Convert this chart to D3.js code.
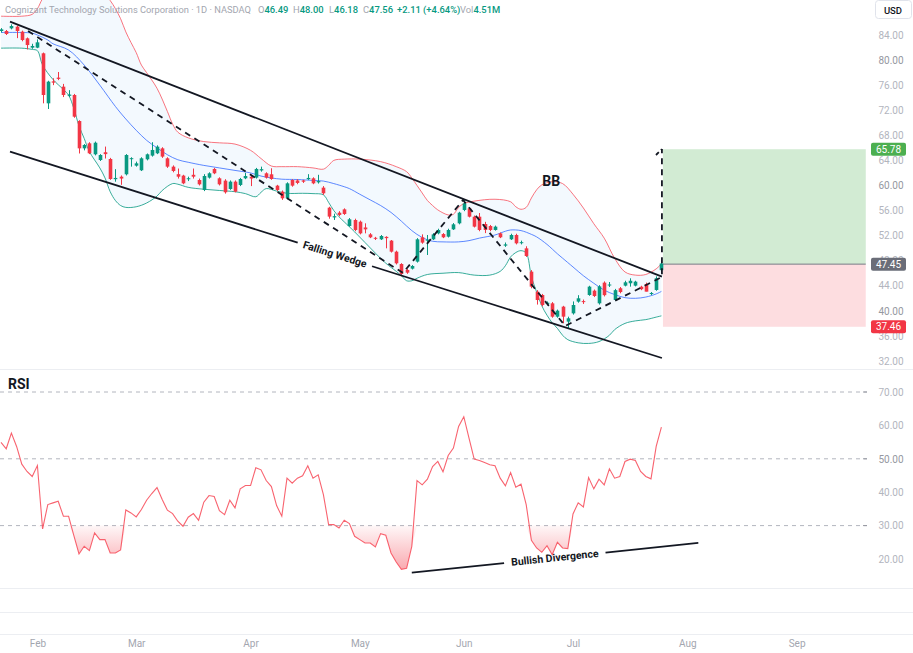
<!DOCTYPE html>
<html><head><meta charset="utf-8">
<script src="https://cdn.jsdelivr.net/npm/d3@7"></script>
<style>
html,body{margin:0;padding:0;background:#fff;}
svg{display:block;font-family:Roboto,"Noto Sans",sans-serif;}
</style></head><body>
<svg id="chart" width="913" height="653"></svg>
<script>
// ---------- DATA ----------
const opens  = [84.64,84.64,85.06,85.33,84.53,83.47,81.98,81.98,81.08,73.1,76.6,77.2,75.76,74.3,74.43,70.28,65.92,66.72,64.97,64.06,65.3,64.22,61.0,61.4,61.78,64.2,63.16,62.42,64.17,64.76,65.13,65.92,64.33,63.0,61.8,61.57,61.0,61.7,60.87,59.28,61.25,62.63,61.14,60.77,59.44,60.61,60.08,61.14,61.4,61.25,62.4,61.94,61.78,59.97,59.01,57.95,60.87,60.8,60.8,61.0,61.14,60.5,59.65,56.46,54.9,55.66,56.19,53.53,54.49,54.22,53.3,52.2,51.65,51.41,51.8,51.2,49.44,47.47,46.52,46.73,47.85,51.73,51.2,51.41,52.36,52.25,51.83,53.0,53.96,56.09,56.35,55.02,55.02,53.85,53.53,52.9,52.36,50.4,51.41,52.1,50.8,49.97,46.25,43.06,42.53,41.1,41.2,39.07,40.67,38.28,39.6,41.47,41.55,42.53,43.22,41.2,44.5,44.05,41.73,43.6,44.02,44.4,44.02,43.85,44.28,42.7,43.33,46.49];
const highs  = [85.1,84.8,85.7,85.5,84.7,83.6,82.6,83.3,81.2,76.7,77.1,78.1,76.2,75.2,74.6,70.4,66.6,66.9,67.0,65.0,66.2,64.4,62.6,61.6,65.0,64.5,63.8,64.5,65.1,66.9,66.4,66.1,64.5,63.2,62.7,61.7,61.4,62.7,61.1,61.8,62.1,62.8,61.3,61.0,60.8,60.8,61.2,62.0,61.7,62.8,63.0,62.1,62.74,60.1,59.2,60.5,61.0,61.0,60.9,61.8,61.3,61.7,59.9,56.6,55.5,55.9,56.35,54.8,54.7,54.4,53.96,52.4,51.8,52.1,51.9,51.3,49.6,47.6,46.7,47.3,51.6,52.2,52.1,52.4,53.1,52.4,53.1,54.0,55.8,57.7,56.5,55.2,55.6,54.2,53.7,53.6,52.5,50.9,52.3,52.3,51.2,50.3,46.5,43.3,42.7,41.5,41.4,40.2,40.8,39.07,41.5,42.5,41.8,44.0,43.4,44.1,44.7,44.6,43.5,43.8,44.8,45.19,44.8,44.0,44.5,43.0,45.5,48.0];
const lows   = [84.4,84.0,84.9,83.5,83.0,81.7,81.8,81.9,73.1,72.2,76.0,76.8,74.1,74.1,70.8,65.1,65.6,65.0,64.8,63.9,64.3,60.9,60.6,60.1,61.6,63.0,63.0,62.3,64.0,64.6,65.0,64.4,62.8,62.1,61.1,60.2,60.7,61.1,60.0,59.1,61.1,61.8,60.0,58.7,59.3,58.9,59.9,61.0,59.9,61.1,62.2,61.1,60.9,59.1,57.7,57.8,59.8,60.2,60.4,60.9,60.2,60.3,58.5,54.7,54.5,55.1,55.3,53.4,52.7,52.2,52.36,51.6,51.3,51.3,49.97,49.3,47.4,45.72,45.9,46.6,47.7,50.7,48.91,51.3,52.2,51.6,51.7,52.9,53.8,55.9,54.9,53.3,52.7,52.4,52.7,52.8,51.6,50.2,51.3,50.6,50.6,48.6,43.6,41.0,40.7,40.9,38.9,38.9,38.01,37.21,39.4,41.3,41.1,42.4,42.2,41.0,42.3,43.8,41.6,42.8,43.9,43.86,43.9,43.3,43.1,42.5,43.2,46.18];
const closes = [84.90,84.16,85.43,84.64,83.2,82.4,82.25,82.83,74.43,76.56,76.4,77.0,74.43,74.5,70.97,65.92,66.46,65.13,66.82,64.86,65.0,61.03,61.2,61.1,64.86,64.35,63.53,64.33,64.97,65.66,66.19,64.6,63.0,62.31,61.4,60.34,61.15,61.4,60.18,61.51,61.94,61.94,60.18,58.91,60.61,59.01,61.03,61.51,61.1,62.63,62.6,61.25,61.03,59.28,57.95,60.34,59.97,60.4,60.6,61.2,60.34,60.7,58.75,55.03,55.1,55.3,55.45,54.6,52.9,52.36,53.0,51.73,51.5,51.94,51.6,49.44,47.58,45.88,46.09,47.15,51.41,50.88,51.35,52.2,52.9,51.73,52.9,53.8,55.66,57.15,55.02,53.43,52.9,52.9,52.9,53.43,51.73,50.6,52.1,50.77,50.95,48.75,43.86,41.73,40.93,41.3,39.07,40.03,39.07,38.81,40.93,42.0,41.4,43.86,42.37,43.9,42.5,44.2,43.3,43.0,44.55,44.8,44.66,43.45,43.06,42.85,45.2,47.56];

const bbUpperIdx = [0,4,6,7,8,10,13,16,19,21,22,23,24,25,26,27,28,30,32,33,34,36,39,42,45,48,50,52,54,57,60,62,63,64,66,69,73,76,78,79,80,81,82,83,84,86,87,88,89,91,95,98,99,100,101,102,103,104,106,108,110,112,114,116,118,120,122,124,126,127];
const bbUpperVal = [87.0,87.0,87.3,88.2,89.8,91.8,93.0,93.0,91.5,89.5,88.2,86.6,84.5,82.8,81.2,79.2,78.0,75.5,71.8,69.8,68.5,67.6,67.0,66.8,66.6,65.6,64.3,63.1,63.0,63.0,62.8,62.6,63.2,64.0,64.2,64.2,63.8,63.0,62.2,61.2,60.0,58.8,57.6,56.8,56.1,55.3,55.4,56.5,57.1,57.5,57.8,57.4,56.6,56.2,56.5,58.0,59.3,60.1,60.6,60.3,58.6,56.4,53.9,51.6,48.4,46.2,45.7,45.8,46.7,47.5];
const bbMidIdx = [0,4,6,7,9,10,13,16,19,22,24,26,28,30,32,34,36,39,42,45,48,50,52,54,57,60,62,64,66,67,69,71,73,75,77,79,81,83,85,88,90,92,95,97,98,100,102,103,105,107,108,110,112,114,116,118,120,122,124,126,127];
const bbMidVal = [84.4,84.4,84.3,84.0,83.2,82.6,81.6,79.2,76.0,72.6,70.6,68.8,67.2,66.0,64.9,64.1,63.7,63.2,62.8,62.4,62.0,61.5,61.2,61.0,60.95,60.8,60.7,60.3,59.8,59.5,58.6,57.7,56.8,55.7,54.3,52.8,51.7,51.1,51.0,51.0,51.2,51.6,52.1,52.7,52.9,52.8,52.2,51.8,50.6,49.1,48.4,47.0,45.6,44.4,43.3,42.6,42.1,42.0,42.2,42.7,43.1];
const bbLowerIdx = [0,4,6,7,8,10,12,13,14,15,16,17,19,20,21,22,23,24,26,28,30,31,33,34,36,39,42,45,47,49,50,51,53,55,58,60,62,63,64,65,66,68,70,72,74,76,77,78,79,80,82,85,88,91,94,96,97,98,99,100,101,102,103,104,105,106,107,108,109,111,113,115,117,118,120,122,124,126,127];
const bbLowerVal = [81.9,81.9,81.7,81.5,79.2,76.9,75.3,74.4,72.3,69.5,67.5,65.4,62.8,61.2,59.0,57.6,56.8,56.5,56.6,57.2,58.3,59.2,60.3,60.2,59.7,59.4,59.2,59.0,58.7,58.2,58.9,59.5,59.1,58.75,58.75,58.7,58.5,57.3,56.0,55.0,54.2,52.6,50.9,49.2,47.6,46.3,45.6,44.8,44.8,45.2,45.8,46.0,46.1,45.7,45.7,46.3,47.2,48.6,49.3,49.6,49.2,45.5,43.0,40.8,39.3,38.1,37.2,36.1,35.4,34.9,34.8,35.1,36.1,37.0,38.0,38.4,38.6,39.0,39.2];

const rsiVals = [54.9,53.0,57.7,53.7,48.4,46.2,44.7,48.0,29.0,36.3,36.8,37.3,32.8,32.8,27.1,21.5,23.8,22.5,27.8,25.8,25.8,21.8,21.8,22.7,34.7,33.8,32.6,34.8,37.6,39.6,41.4,37.8,34.6,33.6,31.3,29.8,32.5,33.6,31.6,37.0,39.0,38.7,34.5,33.3,37.6,35.3,41.0,42.0,42.0,47.3,46.7,43.5,41.7,36.0,32.8,44.2,42.7,44.2,44.9,47.9,44.2,45.2,39.3,30.3,30.3,29.3,31.6,30.6,26.8,25.8,24.8,24.8,23.6,27.6,27.1,21.8,19.1,16.9,17.2,23.8,43.5,42.2,43.9,47.7,49.2,46.1,51.0,53.2,59.7,62.6,56.2,49.9,49.5,48.9,48.2,47.9,44.2,41.9,45.9,41.5,42.4,36.3,25.6,23.3,22.0,24.0,21.3,25.0,23.3,23.1,33.5,36.8,35.6,44.4,41.0,43.9,42.2,47.0,44.2,44.7,49.2,49.9,49.5,46.2,44.7,44.0,53.7,59.5];

const priceTicks = [32,36,40,44,48,52,56,60,64,68,72,76,80,84];
const rsiTicks = [20,30,40,50,60,70];
const rsiLevels = [70,50,30];
const monthIdx = [7,26,48,69,89,110,132,153];
const monthNames = ["Feb","Mar","Apr","May","Jun","Jul","Aug","Sep"];

// annotations (bar index, price)
const wedgeUpper = [[1.73,86.12],[127.1,45.45]];
const wedgeLower = [[1.73,65.39],[127.1,32.48]];
const wedgeLabelIdx = 64.2;
const zigzag = [[5.2,84.64],[77.3,46.04],[88.85,57.68],[108.5,37.59],[127.1,45.4],[127.1,65.8]];
const arrowTick = [[125.96,64.86],[127.1,65.8]];
const divergence = [[79.0,15.9],[134.1,24.8]];
const divergenceLabelIdx = 106.5;
const rrTarget = 65.78, rrEntry = 47.45, rrStop = 37.46;
const rrStartIdx = 127.3, rrEndIdx = 166.3;

const header = "Cognizant Technology Solutions Corporation · 1D · NASDAQ";
const ohlcv = [["O","46.49"],["H","48.00"],["L","46.18"],["C","47.56"],["","+2.11 (+4.64%)"],["Vol","4.51M"]];

// ---------- DRAW ----------
const svg = d3.select("#chart");
const UP = "#089981", DOWN = "#f23645";
const x = d3.scaleLinear().domain([0,127]).range([1,661.4]);
const yP = d3.scaleLinear().domain([32,84]).range([361,35]);
const yR = d3.scaleLinear().domain([20,70]).range([559,392]);

const defs = svg.append("defs");
defs.append("clipPath").attr("id","clipP").append("rect").attr("x",0).attr("y",0).attr("width",867).attr("height",369);
const grad = defs.append("linearGradient").attr("id","rsiGrad").attr("gradientUnits","userSpaceOnUse")
  .attr("x1",0).attr("x2",0).attr("y1",yR(30)).attr("y2",yR(16));
grad.append("stop").attr("offset",0).attr("stop-color","#f23645").attr("stop-opacity",0.04);
grad.append("stop").attr("offset",1).attr("stop-color","#f23645").attr("stop-opacity",0.45);

// pane separators
[369.5,588.5,612.5,634.5].forEach(yy=>svg.append("line").attr("x1",0).attr("x2",913).attr("y1",yy).attr("y2",yy).attr("stroke","#eceef2").attr("stroke-width",1));

const gP = svg.append("g").attr("clip-path","url(#clipP)");

// risk/reward boxes
gP.append("rect").attr("x",x(rrStartIdx)).attr("width",x(rrEndIdx)-x(rrStartIdx))
  .attr("y",yP(rrTarget)).attr("height",yP(rrEntry)-yP(rrTarget)).attr("fill","#4caf50").attr("fill-opacity",0.25);
gP.append("rect").attr("x",x(rrStartIdx)).attr("width",x(rrEndIdx)-x(rrStartIdx))
  .attr("y",yP(rrEntry)).attr("height",yP(rrStop)-yP(rrEntry)).attr("fill","#f23645").attr("fill-opacity",0.17);
gP.append("line").attr("x1",x(rrStartIdx)).attr("x2",x(rrEndIdx)).attr("y1",yP(rrEntry)).attr("y2",yP(rrEntry))
  .attr("stroke","#787b86").attr("stroke-width",1);

// Bollinger bands
const toPts = (idx,val)=>idx.map((d,k)=>[x(d),yP(val[k])]);
const upPts = toPts(bbUpperIdx,bbUpperVal), midPts = toPts(bbMidIdx,bbMidVal), loPts = toPts(bbLowerIdx,bbLowerVal);
const line = d3.line().curve(d3.curveCatmullRom.alpha(0.5));
const fillD = line(upPts) + line(loPts.slice().reverse()).replace(/^M/,"L") + "Z";
gP.append("path").attr("d",fillD).attr("fill","#2196f3").attr("fill-opacity",0.055);
gP.append("path").attr("d",line(upPts)).attr("fill","none").attr("stroke","#f7525f").attr("stroke-opacity",0.8).attr("stroke-width",1);
gP.append("path").attr("d",line(midPts)).attr("fill","none").attr("stroke","#2962ff").attr("stroke-opacity",0.75).attr("stroke-width",1);
gP.append("path").attr("d",line(loPts)).attr("fill","none").attr("stroke","#089981").attr("stroke-opacity",0.8).attr("stroke-width",1);

// candles
const bars = d3.range(opens.length).map(i=>({i,o:opens[i],h:highs[i],l:lows[i],c:closes[i]}));
const cg = gP.append("g");
cg.selectAll("line.w").data(bars).join("line").attr("class","w")
  .attr("x1",d=>Math.round(x(d.i))+0.5).attr("x2",d=>Math.round(x(d.i))+0.5)
  .attr("y1",d=>yP(d.h)).attr("y2",d=>yP(d.l))
  .attr("stroke",d=>d.c>=d.o?UP:DOWN).attr("stroke-width",1);
cg.selectAll("rect.b").data(bars).join("rect").attr("class","b")
  .attr("x",d=>Math.round(x(d.i))-1.3).attr("width",3.6)
  .attr("y",d=>yP(Math.max(d.o,d.c))).attr("height",d=>Math.max(1,Math.abs(yP(d.o)-yP(d.c))))
  .attr("fill",d=>d.c>=d.o?UP:DOWN);

// annotation lines
const sp = p=>[x(p[0]),yP(p[1])];
const ink = "#131722";
function gappedLine(g, p1, p2, cxIdx, half, label, fs){
  const ux = p2[0]-p1[0], uy = p2[1]-p1[1], len = Math.hypot(ux,uy);
  const dx = ux/len, dy = uy/len;
  const t = (x(cxIdx)-p1[0])/ux;
  const cx = p1[0]+ux*t, cy = p1[1]+uy*t;
  g.append("line").attr("x1",p1[0]).attr("y1",p1[1]).attr("x2",cx-dx*half).attr("y2",cy-dy*half).attr("stroke",ink).attr("stroke-width",1.8);
  g.append("line").attr("x1",cx+dx*half).attr("y1",cy+dy*half).attr("x2",p2[0]).attr("y2",p2[1]).attr("stroke",ink).attr("stroke-width",1.8);
  const ang = Math.atan2(uy,ux)*180/Math.PI;
  g.append("text").attr("transform",`translate(${cx},${cy}) rotate(${ang})`)
    .attr("text-anchor","middle").attr("dominant-baseline","central")
    .attr("font-size",fs).attr("font-weight",700).attr("fill",ink).text(label);
}
gP.append("line").attr("x1",sp(wedgeUpper[0])[0]).attr("y1",sp(wedgeUpper[0])[1]).attr("x2",sp(wedgeUpper[1])[0]).attr("y2",sp(wedgeUpper[1])[1]).attr("stroke",ink).attr("stroke-width",1.8);
gappedLine(gP, sp(wedgeLower[0]), sp(wedgeLower[1]), wedgeLabelIdx, 39, "Falling Wedge", 10.5);
gP.append("path").attr("d",d3.line()(zigzag.map(sp))).attr("fill","none").attr("stroke",ink).attr("stroke-width",1.8).attr("stroke-dasharray","6,5");
gP.append("path").attr("d",d3.line()(arrowTick.map(sp))).attr("fill","none").attr("stroke",ink).attr("stroke-width",1.8).attr("stroke-dasharray","4,3");

svg.append("text").attr("x",x(105.8)).attr("y",yP(60.7)).attr("text-anchor","middle").attr("dominant-baseline","central")
  .attr("font-size",14).attr("font-weight",700).attr("fill",ink).text("BB");

// price axis
const pa = svg.append("g").attr("transform","translate(891,0)")
  .call(d3.axisRight(yP).tickValues(priceTicks).tickFormat(d=>d.toFixed(2)).tickSize(0).tickPadding(0));
pa.select(".domain").remove();
pa.selectAll("text").attr("text-anchor","middle").attr("x",0).attr("font-size",10).attr("font-family","Roboto,sans-serif")
  .attr("fill",d=>[40,60,80].includes(d)?"#9598a1":"#b2b5be");
function priceTag(v,color){
  const g = svg.append("g").attr("transform",`translate(871,${yP(v)})`);
  g.append("rect").attr("x",0).attr("y",-6.5).attr("width",35).attr("height",13).attr("rx",2).attr("fill",color);
  g.append("text").attr("x",17.5).attr("y",0).attr("dominant-baseline","central").attr("text-anchor","middle")
    .attr("font-size",10).attr("fill","#fff").text(v.toFixed(2));
}
priceTag(rrTarget,"#4caf50");
priceTag(rrEntry,"#6a6d78");
priceTag(rrStop,"#f23645");

// USD box
svg.append("rect").attr("x",875.5).attr("y",0.5).attr("width",36).attr("height",18).attr("rx",3).attr("fill","#fff").attr("stroke","#e0e3eb");
svg.append("text").attr("x",893).attr("y",10).attr("dominant-baseline","central").attr("text-anchor","middle").attr("font-size",9.5).attr("font-weight",500).attr("fill","#131722").text("USD");

// RSI pane
const gR = svg.append("g");
rsiLevels.forEach(v=>{
  gR.append("line").attr("x1",0).attr("x2",867).attr("y1",yR(v)).attr("y2",yR(v)).attr("stroke","#b2b5be").attr("stroke-dasharray","4,4").attr("stroke-width",1);
  gR.append("line").attr("x1",863).attr("x2",867).attr("y1",yR(v)).attr("y2",yR(v)).attr("stroke","#9598a1").attr("stroke-width",1);
});
const rsiPts = rsiVals.map((v,i)=>[i,v]);
const area = d3.area().x(d=>x(d[0])).y0(yR(30)).y1(d=>yR(Math.min(30,d[1])));
gR.append("path").attr("d",area(rsiPts)).attr("fill","url(#rsiGrad)");
gR.append("path").attr("d",d3.line().x(d=>x(d[0])).y(d=>yR(d[1]))(rsiPts)).attr("fill","none").attr("stroke","#f7525f").attr("stroke-opacity",0.9).attr("stroke-width",1.1);
const spR = p=>[x(p[0]),yR(p[1])];
gappedLine(gR, spR(divergence[0]), spR(divergence[1]), divergenceLabelIdx, 51, "Bullish Divergence", 10.5);
svg.append("text").attr("x",8).attr("y",384).attr("dominant-baseline","central").attr("font-size",14).attr("font-weight",700).attr("fill",ink).text("RSI");

const ra = svg.append("g").attr("transform","translate(891,0)")
  .call(d3.axisRight(yR).tickValues(rsiTicks).tickFormat(d=>d.toFixed(2)).tickSize(0).tickPadding(0));
ra.select(".domain").remove();
ra.selectAll("text").attr("text-anchor","middle").attr("x",0).attr("font-size",10).attr("font-family","Roboto,sans-serif")
  .attr("fill",d=>d===50?"#9598a1":"#b2b5be");

// time axis
const xa = svg.append("g").attr("transform","translate(0,640)")
  .call(d3.axisBottom(x).tickValues(monthIdx).tickFormat((d,k)=>monthNames[k]).tickSize(0).tickPadding(0));
xa.select(".domain").remove();
xa.selectAll("text").attr("font-size",10).attr("font-family","Roboto,sans-serif").attr("fill","#a3a6af");

// header
svg.append("text").attr("x",5).attr("y",12.5).attr("font-size",9.6).attr("fill","#a3a6af")
  .attr("textLength",246).attr("lengthAdjust","spacingAndGlyphs").text(header);
const hx = [258,293,329,363,397,460];
ohlcv.forEach((p,k)=>{
  const t = svg.append("text").attr("x",hx[k]).attr("y",12.5).attr("font-size",9.4);
  if(p[0]) t.append("tspan").attr("fill","#a3a6af").text(p[0]);
  t.append("tspan").attr("fill",UP).attr("font-weight",500).text(p[1]);
});
</script>
</body></html>
